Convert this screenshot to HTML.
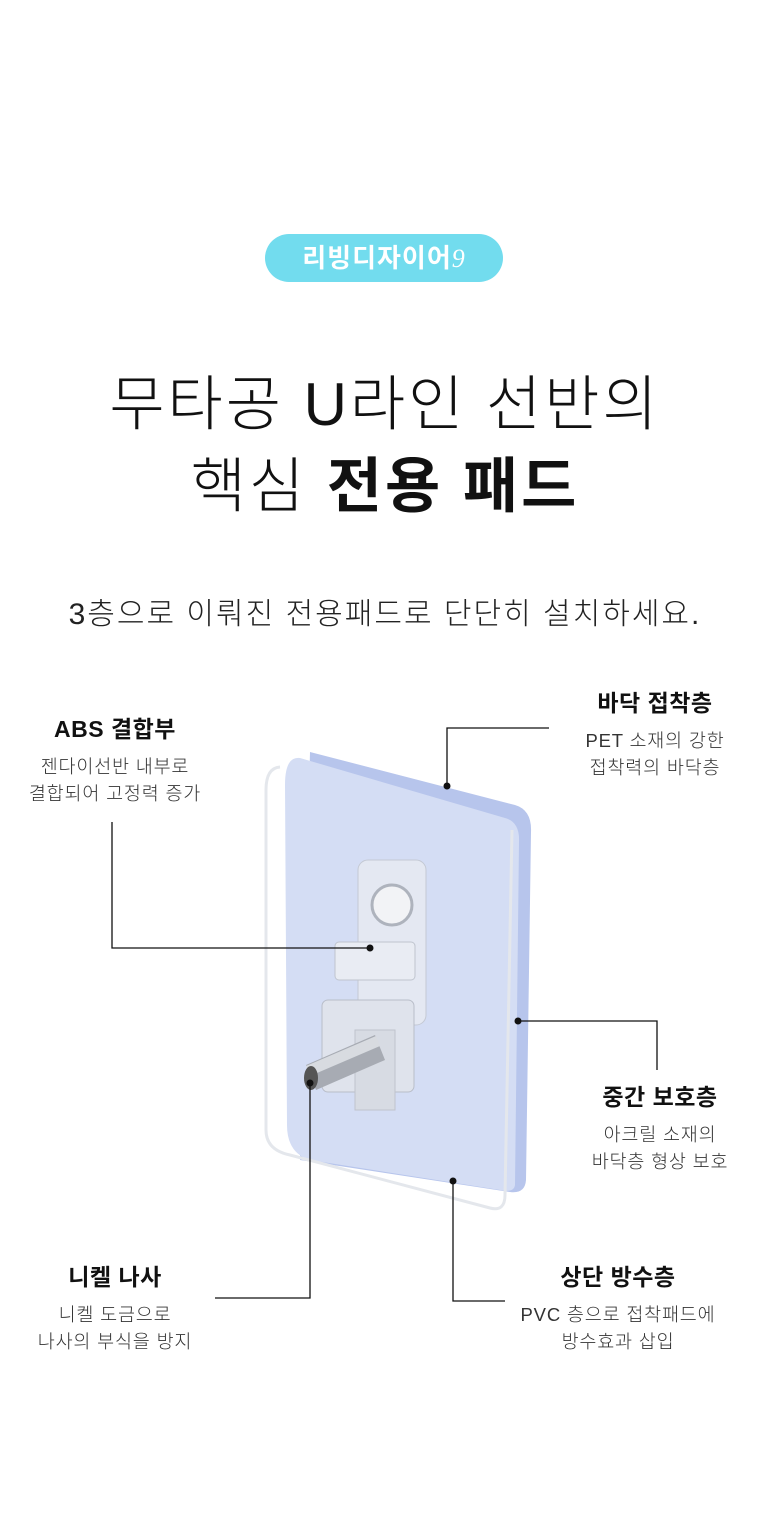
<!DOCTYPE html>
<html><head><meta charset="utf-8"><style>
html,body{margin:0;padding:0;background:#fff}
body{width:770px;height:1515px;position:relative;overflow:hidden;font-family:"Liberation Sans","Noto Sans CJK KR",sans-serif;color:#111}
.a{position:absolute;white-space:nowrap}
.c{text-align:center}
.h{font-weight:bold;font-size:23px;letter-spacing:0.5px}
.s{font-size:18.5px;color:#333;line-height:27px;letter-spacing:0.8px;font-weight:300}
</style></head><body>
<div class="a" style="left:265px;top:234px;width:238px;height:48px;border-radius:24px;background:#72dcee;color:#fff;font-weight:bold;font-size:26px;line-height:48px;text-align:center;letter-spacing:1px">리빙디자이어<span style="font-family:'Liberation Serif',serif;font-style:italic;font-weight:normal">9</span></div>
<div class="a c" style="left:0;width:770px;top:364px;font-size:60px;line-height:82px;color:#111;letter-spacing:3px;font-weight:300">무타공 U라인 선반의<br>핵심 <b style="font-weight:bold">전용 패드</b></div>
<div class="a c" style="left:0;width:770px;top:589px;font-size:30px;color:#222;letter-spacing:2px;font-weight:300">3층으로 이뤄진 전용패드로 단단히 설치하세요.</div>

<svg class="a" style="left:0;top:0" width="770" height="1515">
<path d="M310,752 L515,805 Q532,810 531,832 L526,1180 Q525,1194 510,1192 L300,1160 Z" fill="#b7c5ec"/>
<path d="M300,758 L505,818 Q520,822 519,842 L515,1185 Q514,1193 500,1190 L310,1160 Q287,1153 287,1125 L285,785 Q285,756 300,758 Z" fill="#d4ddf4"/>
<path d="M280,767 Q266,768 266,790 L266,1130 Q266,1150 290,1155 L490,1208 Q505,1212 505,1195 L512,830" fill="none" stroke="#e4e7ec" stroke-width="3"/>
<rect x="358" y="860" width="68" height="165" rx="10" fill="#e4e8f2" stroke="#c4c9d4"/>
<circle cx="392" cy="905" r="20" fill="#f2f3f6" stroke="#aeb3bd" stroke-width="3"/>
<rect x="335" y="942" width="80" height="38" rx="4" fill="#e9ecf3" stroke="#bfc4ce"/>
<rect x="322" y="1000" width="92" height="92" rx="6" fill="#dfe3ec" stroke="#b9bec9"/>
<rect x="355" y="1030" width="40" height="80" fill="#d7dbe3" stroke="#bfc3cc"/>
<path d="M306,1065 L375,1035 L385,1060 L316,1090 Z" fill="#a7abb3"/>
<path d="M306,1066 L376,1036 L380,1046 L310,1076 Z" fill="#d8dbe0"/>
<ellipse cx="311" cy="1078" rx="7" ry="12" fill="#555"/>
<g stroke="#111" stroke-width="1.3" fill="none">
<path d="M112,822 V948 H370"/>
<path d="M549,728 H447 V786"/>
<path d="M518,1021 H657 V1070"/>
<path d="M310,1083 V1298 H215"/>
<path d="M453,1181 V1301 H505"/>
</g>
<g fill="#111"><circle cx="370" cy="948" r="3.5"/><circle cx="447" cy="786" r="3.5"/><circle cx="518" cy="1021" r="3.5"/><circle cx="310" cy="1083" r="3.5"/><circle cx="453" cy="1181" r="3.5"/></g>
</svg>

<div class="a c" style="left:0;width:230px;top:710px"><div class="h">ABS 결합부</div><div class="s" style="margin-top:9px">젠다이선반 내부로<br>결합되어 고정력 증가</div></div>
<div class="a c" style="left:540px;width:230px;top:684px"><div class="h">바닥 접착층</div><div class="s" style="margin-top:9px">PET 소재의 강한<br>접착력의 바닥층</div></div>
<div class="a c" style="left:545px;width:230px;top:1078px"><div class="h">중간 보호층</div><div class="s" style="margin-top:9px">아크릴 소재의<br>바닥층 형상 보호</div></div>
<div class="a c" style="left:0;width:230px;top:1258px"><div class="h">니켈 나사</div><div class="s" style="margin-top:9px">니켈 도금으로<br>나사의 부식을 방지</div></div>
<div class="a c" style="left:503px;width:230px;top:1258px"><div class="h">상단 방수층</div><div class="s" style="margin-top:9px">PVC 층으로 접착패드에<br>방수효과 삽입</div></div>
</body></html>
